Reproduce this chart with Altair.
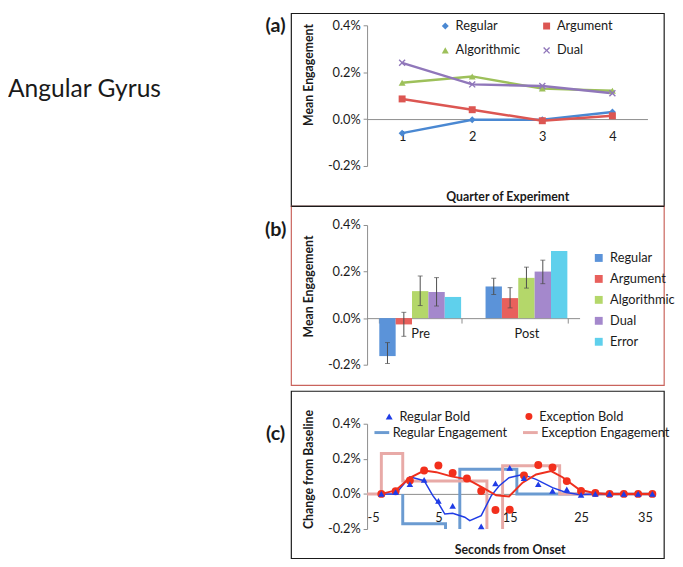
import altair as alt
import pandas as pd

# ---------------- data ----------------
# (a) engagement by quarter of experiment (in %)
quarters = ["1", "2", "3", "4"]
series_a = ["Regular", "Argument", "Algorithmic", "Dual"]
regular_a = [-0.060, -0.003, -0.003, 0.030]
argument_a = [0.086, 0.040, -0.007, 0.014]
algorithmic_a = [0.155, 0.182, 0.130, 0.121]
dual_a = [0.240, 0.148, 0.141, 0.110]

# (b) pre / post means with error bars (in %)
phases = ["Pre", "Post"]
series_b = ["Regular", "Argument", "Algorithmic", "Dual", "Error"]
pre_mean = [-0.163, -0.027, 0.116, 0.112, 0.091]
post_mean = [0.136, 0.086, 0.173, 0.200, 0.288]
pre_low = [-0.195, -0.078, 0.054, 0.052, None]
pre_high = [-0.105, 0.025, 0.181, 0.174, None]
post_low = [0.102, 0.044, 0.129, 0.148, None]
post_high = [0.171, 0.131, 0.219, 0.249, None]

# (c) change from baseline over time (in %)
seconds = [-3, -1, 1, 3, 5, 7, 9, 11, 13, 15, 17, 19, 21, 23, 25, 27, 29, 31, 33, 35]
regular_bold = [0.0, 0.010, 0.055, 0.080, -0.040, -0.068, None, -0.185, 0.060, 0.148,
                0.090, 0.055, 0.017, 0.026, -0.005, 0.0, 0.0, 0.0, 0.0, 0.0]
exception_bold = [0.0, 0.015, 0.077, 0.133, 0.162, 0.120, 0.088, 0.017, -0.092, -0.090,
                  0.105, 0.165, 0.150, 0.073, 0.017, 0.005, 0.0, 0.0, 0.0, 0.0]
regular_fit_t = [-3, -1, 1, 3, 4.2, 5, 5.9, 7, 8.7, 9.4, 11, 12.4, 13.5, 14.9, 16.8, 18.7,
                 21, 22.9, 24.7, 27, 29, 31, 33, 35]
regular_fit_v = [0.0, 0.0, 0.097, 0.075, -0.008, -0.053, -0.115, -0.110, -0.133, -0.152,
                 -0.124, -0.011, 0.045, 0.092, 0.111, 0.083, 0.036, 0.008, -0.003, 0.0,
                 0.0, 0.0, 0.0, 0.0]
exception_fit_t = [-3, -1, 1, 3, 4.7, 6.8, 9.1, 11.2, 13.1, 14.9, 16.8, 18.7, 20.8, 22.4,
                   24.7, 26.8, 28.5, 31, 33, 35]
exception_fit_v = [0.0, 0.020, 0.092, 0.133, 0.124, 0.100, 0.083, 0.036, -0.008, -0.015,
                   0.064, 0.111, 0.130, 0.095, 0.026, 0.005, 0.0, 0.0, 0.0, 0.0]
regular_eng_t = [0, 0, 6, 8, 16, 35]
regular_eng_v = [0.0, -0.170, -0.300, 0.140, 0.0, 0.0]
exception_eng_t = [-5, -3, 0, 11.8, 14, 22, 35]
exception_eng_v = [0.0, 0.230, 0.073, -0.300, 0.160, 0.0, 0.0]

# ---------------- styling ----------------
AX = "#8c8c8c"
TXT = "#1a1a1a"
colors_a = {"Regular": "#4a88d2", "Argument": "#dc5652",
            "Algorithmic": "#9dc05a", "Dual": "#9077ba"}
shapes_a = {"Regular": "diamond", "Argument": "square", "Algorithmic": "triangle-up",
            "Dual": ("M-1,-0.72L-0.72,-1L0,-0.28L0.72,-1L1,-0.72L0.28,0L1,0.72L0.72,1"
                     "L0,0.28L-0.72,1L-1,0.72L-0.28,0Z")}
# legend fills column by column: this order gives rows Regular/Argument, Algorithmic/Dual
legend_order_a = ["Regular", "Algorithmic", "Argument", "Dual"]
colors_b = ["#5b93d9", "#e8605c", "#b4d76a", "#a488cc", "#5fd0ec"]
W_A, H_A = 285, 143
W_B, H_B = 216, 142
W_C, H_C = 290, 107
LABEL_EXPR = "(datum.value < 0 ? '-' : '') + format(abs(datum.value), '.1f') + '%'"


def pct_axis(title, title_y, title_pad):
    return alt.Axis(values=[-0.2, 0.0, 0.2, 0.4], labelExpr=LABEL_EXPR, title=title,
                    titleY=title_y, titlePadding=title_pad, tickSize=4, labelPadding=3,
                    domainColor=AX, tickColor=AX, grid=False)


def yscale():
    return alt.Scale(domain=[-0.2, 0.4], nice=False, zero=False)


def box(x1, x2, y1, y2, color):
    return alt.Chart(pd.DataFrame({"k": [0]})).mark_rect(
        fillOpacity=0, stroke=color, strokeWidth=1.2
    ).encode(x=alt.value(x1), x2=alt.value(x2), y=alt.value(y1), y2=alt.value(y2))


def label(text, x, y, size, bold=True, align="center"):
    return alt.Chart(pd.DataFrame({"label": [text]})).mark_text(
        fontSize=size, fontWeight="bold" if bold else "normal", align=align,
        baseline="alphabetic", color=TXT
    ).encode(x=alt.value(x), y=alt.value(y), text="label:N")


# ---------------- panel (a) ----------------
df_a = pd.DataFrame([
    {"Quarter": q, "Series": s, "Value": v}
    for s, vals in zip(series_a, [regular_a, argument_a, algorithmic_a, dual_a])
    for q, v in zip(quarters, vals)
])
xa = alt.X("Quarter:N", sort=quarters, scale=alt.Scale(type="point", padding=0.5),
           axis=alt.Axis(title="Quarter of Experiment", labelAngle=0,
                         offset=-(H_A - H_A * 0.4 / 0.6), tickSize=0, labelPadding=12,
                         titlePadding=48, domainColor=AX))
ya = alt.Y("Value:Q", scale=yscale(), axis=pct_axis("Mean Engagement", 50, 12))
cscale_a = alt.Scale(domain=legend_order_a, range=[colors_a[s] for s in legend_order_a])
sscale_a = alt.Scale(domain=legend_order_a, range=[shapes_a[s] for s in legend_order_a])
legend_a = alt.Legend(title=None, orient="none", legendX=73, legendY=-6, columns=2,
                      columnPadding=20, rowPadding=11, labelFontSize=13, symbolSize=50,
                      labelOffset=4, padding=0)
line_layers_a = [
    alt.Chart(df_a).transform_filter(alt.datum.Series == s)
    .mark_line(strokeWidth=2.5, color=colors_a[s]).encode(x=xa, y=ya)
    for s in series_a
]
pts_a = alt.Chart(df_a).mark_point(filled=True, size=50, opacity=1).encode(
    x=xa, y=ya,
    color=alt.Color("Series:N", scale=cscale_a, legend=legend_a),
    shape=alt.Shape("Series:N", scale=sscale_a, legend=legend_a))
chart_a = alt.layer(
    box(-77, 302, -12, 184, "#1a1a1a"), *line_layers_a, pts_a,
    label("(a)", -93, 7, 20),
    label("Angular Gyrus", -365, 73, 25, bold=False, align="left"),
).properties(width=W_A, height=H_A)

# ---------------- panel (b) ----------------
rows_b = []
for phase, means, lows, highs in [("Pre", pre_mean, pre_low, pre_high),
                                  ("Post", post_mean, post_low, post_high)]:
    for s, m, lo, hi in zip(series_b, means, lows, highs):
        rows_b.append({"Phase": phase, "Series": s, "Mean": m, "Low": lo, "High": hi})
df_b = pd.DataFrame(rows_b)
df_b_err = df_b.dropna()
xb = alt.X("Phase:N", sort=phases, scale=alt.Scale(paddingInner=0.23, paddingOuter=0.115),
           axis=alt.Axis(title=None, labelAngle=0, offset=-(H_B - H_B * 0.4 / 0.6),
                         tickBand="extent", tickSize=5, labelPadding=5,
                         domainColor=AX, tickColor=AX))
xob = alt.XOffset("Series:N", sort=series_b,
                  scale=alt.Scale(domain=series_b, paddingInner=0, paddingOuter=0))
axis_b = pct_axis("Mean Engagement", 62, 12)
legend_b = alt.Legend(title=None, orient="none", legendX=229, legendY=27, rowPadding=7.3,
                      symbolSize=64, symbolType="square", labelOffset=5, labelFontSize=13,
                      padding=0)
bars = alt.Chart(df_b).mark_bar().encode(
    x=xb, xOffset=xob, y=alt.Y("Mean:Q", scale=yscale(), axis=axis_b),
    color=alt.Color("Series:N", scale=alt.Scale(domain=series_b, range=colors_b),
                    legend=legend_b))
err = alt.Chart(df_b_err).mark_rule(color="#4d4d4d", strokeWidth=1).encode(
    x=xb, xOffset=xob, y=alt.Y("Low:Q", scale=yscale(), axis=axis_b), y2="High:Q")
cap_lo = alt.Chart(df_b_err).mark_tick(color="#4d4d4d", size=5, thickness=1).encode(
    x=xb, xOffset=xob, y=alt.Y("Low:Q", scale=yscale(), axis=axis_b))
cap_hi = alt.Chart(df_b_err).mark_tick(color="#4d4d4d", size=5, thickness=1).encode(
    x=xb, xOffset=xob, y=alt.Y("High:Q", scale=yscale(), axis=axis_b))
top_line = alt.Chart(pd.DataFrame({"k": [0]})).mark_rule(color="#1a1a1a", strokeWidth=1.2).encode(
    x=alt.value(-77), x2=alt.value(302), y=alt.value(-19))
chart_b = alt.layer(
    box(-77, 302, -19, 163, "#c9635c"), bars, err, cap_lo, cap_hi, top_line,
    label("(b)", -93, 11, 20),
).properties(width=W_B, height=H_B)

# ---------------- panel (c) ----------------
df_rb = pd.DataFrame({"t": seconds, "v": regular_bold, "Series": "Regular Bold"}).dropna()
df_eb = pd.DataFrame({"t": seconds, "v": exception_bold, "Series": "Exception Bold"})
df_rf = pd.DataFrame({"t": regular_fit_t, "v": regular_fit_v})
df_ef = pd.DataFrame({"t": exception_fit_t, "v": exception_fit_v})
df_re = pd.DataFrame({"t": regular_eng_t, "v": regular_eng_v, "Series": "Regular Engagement",
                      "i": range(len(regular_eng_t))})
df_ee = pd.DataFrame({"t": exception_eng_t, "v": exception_eng_v,
                      "Series": "Exception Engagement", "i": range(len(exception_eng_t))})

xc = alt.X("t:Q", scale=alt.Scale(domain=[-5, 35], nice=False, zero=False),
           axis=alt.Axis(values=[-5, 5, 15, 25, 35],
                         labelExpr="(datum.value < 0 ? '-' : '') + abs(datum.value)",
                         title="Seconds from Onset", offset=-(H_C - H_C * 0.4 / 0.6),
                         tickSize=0, labelPadding=18, titlePadding=20, domainColor=AX))
yc = alt.Y("v:Q", scale=yscale(), axis=pct_axis("Change from Baseline", 46, 12))

stroke_c = alt.Scale(domain=["Regular Engagement", "Exception Engagement"],
                     range=["#6b9bd1", "#e8aaa7"])
legend_c2 = alt.Legend(title=None, orient="none", legendX=6, legendY=0, columns=2,
                       columnPadding=9, symbolType="stroke", symbolStrokeWidth=3,
                       symbolSize=225, labelOffset=2, labelFontSize=13, padding=0)
step_r = alt.Chart(df_re).mark_line(interpolate="step-after", strokeWidth=3, clip=True).encode(
    x=xc, y=yc, order="i:Q", stroke=alt.Stroke("Series:N", scale=stroke_c, legend=legend_c2))
step_e = alt.Chart(df_ee).mark_line(interpolate="step-after", strokeWidth=3, clip=True).encode(
    x=xc, y=yc, order="i:Q", stroke=alt.Stroke("Series:N", scale=stroke_c, legend=legend_c2))

fit_r = alt.Chart(df_rf).mark_line(color="#1f3ce6", strokeWidth=1.5).encode(x=xc, y=yc)
fit_e = alt.Chart(df_ef).mark_line(color="#ee2f1e", strokeWidth=2).encode(x=xc, y=yc)

cscale_c = alt.Scale(domain=["Regular Bold", "Exception Bold"], range=["#1f3ce6", "#f22f1c"])
sscale_c = alt.Scale(domain=["Regular Bold", "Exception Bold"], range=["triangle-up", "circle"])
legend_c1 = alt.Legend(title=None, orient="none", legendX=16, legendY=-14, columns=2,
                       columnPadding=52, labelFontSize=13, symbolSize=50, labelOffset=4,
                       padding=0)
pts_e = alt.Chart(df_eb).mark_point(filled=True, size=65, opacity=1).encode(
    x=xc, y=yc, color=alt.Color("Series:N", scale=cscale_c, legend=legend_c1),
    shape=alt.Shape("Series:N", scale=sscale_c, legend=legend_c1))
pts_r = alt.Chart(df_rb).mark_point(filled=True, size=45, opacity=1).encode(
    x=xc, y=yc, color=alt.Color("Series:N", scale=cscale_c, legend=legend_c1),
    shape=alt.Shape("Series:N", scale=sscale_c, legend=legend_c1))

chart_c = alt.layer(
    box(-77, 302, -33, 137, "#1a1a1a"), step_r, step_e, fit_r, fit_e, pts_e, pts_r,
    label("(c)", -93, 17, 20),
).properties(width=W_C, height=H_C)

chart = alt.vconcat(chart_a, chart_b, chart_c, spacing=60, bounds="flush").resolve_scale(
    color="independent", shape="independent", stroke="independent"
).resolve_legend(
    color="independent", shape="independent", stroke="independent"
).properties(
    padding=0
).configure(font="Lato").configure_view(strokeWidth=0).configure_axis(
    labelFontSize=13, titleFontSize=12.5, labelColor=TXT, titleColor=TXT,
    titleFontWeight="bold", grid=False
).configure_legend(labelColor=TXT)

chart.save("out.html", embed_options={"renderer": "svg", "actions": False})
